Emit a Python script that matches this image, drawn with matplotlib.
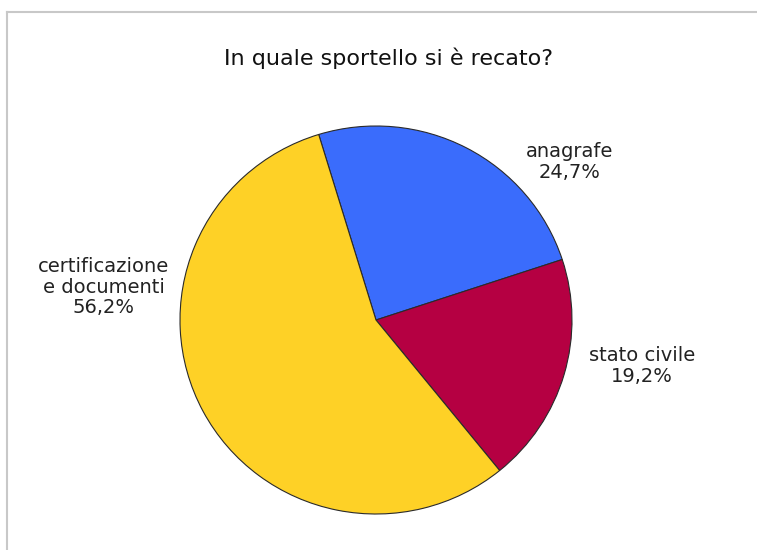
import matplotlib
matplotlib.use("Agg")
import matplotlib.pyplot as plt
from matplotlib.lines import Line2D

# data
categories = ["anagrafe", "stato civile", "certificazione\ne documenti"]
shares = [24.7, 19.2, 56.2]
labels_txt = ["24,7%", "19,2%", "56,2%"]
colors = ["#3a6cfc", "#b50042", "#fed126"]

W, H = 757, 550
fig = plt.figure(figsize=(W/100, H/100), dpi=100)

# grey frame (only left and top edges visible in the picture)
fig.add_artist(Line2D([7/W, 7/W], [0, 1-12/H], color="#c8c8c8", lw=1.5))
fig.add_artist(Line2D([7/W, 1], [1-12/H, 1-12/H], color="#c8c8c8", lw=1.5))

# pie box in pixels
cx, cy, rx, ry = 376, 320, 196, 194
ax = fig.add_axes([(cx-rx)/W, 1-(cy+ry)/H, 2*rx/W, 2*ry/H])
ax.pie(shares, colors=colors, startangle=107, counterclock=False,
       wedgeprops=dict(edgecolor="#2a2a2a", linewidth=0.8))
ax.set_aspect("auto")
ax.set_xlim(-1, 1)
ax.set_ylim(-1, 1)
ax.axis("off")

fs = 14
lab_pos = [(0.987, 0.814), (1.357, -0.237), (-1.388, 0.17)]
for name, pct, (x, y) in zip(categories, labels_txt, lab_pos):
    ax.text(x, y, name + "\n" + pct, ha="center", va="center", fontsize=fs,
            color="#222222", linespacing=1.1, clip_on=False)

fig.text(389/W, 1-65/H, "In quale sportello si è recato?", ha="center", va="baseline",
         fontsize=16, color="#111111")

fig.savefig("out.png", dpi=100)
